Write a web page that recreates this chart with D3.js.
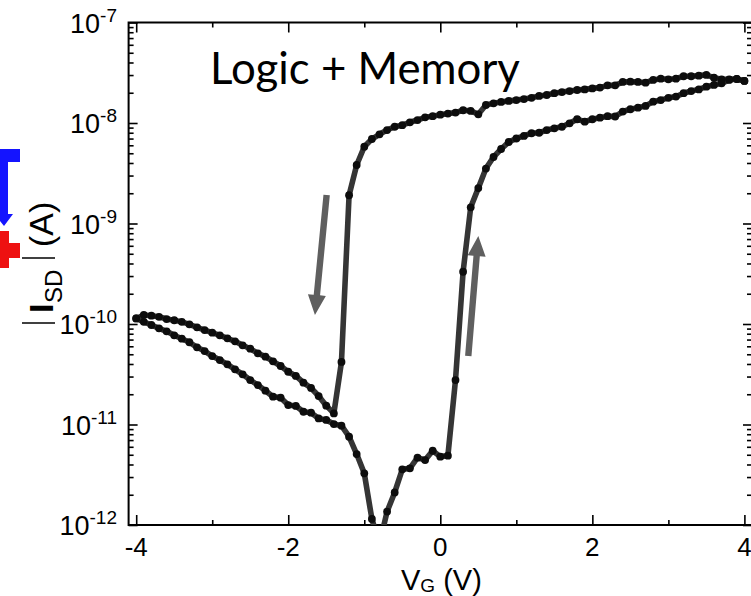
<!DOCTYPE html>
<html><head><meta charset="utf-8">
<script src="https://cdn.jsdelivr.net/npm/d3@7"></script>
<style>body{margin:0;background:#fff}svg{display:block}</style>
</head><body>
<svg id="c" width="751" height="596"></svg>
<script>
// gate voltage steps (V)
const voltages = [-4,-3.9,-3.8,-3.7,-3.6,-3.5,-3.4,-3.3,-3.2,-3.1,
  -3,-2.9,-2.8,-2.7,-2.6,-2.5,-2.4,-2.3,-2.2,-2.1,
  -2,-1.9,-1.8,-1.7,-1.6,-1.5,-1.4,-1.3,-1.2,-1.1,
  -1,-0.9,-0.8,-0.7,-0.6,-0.5,-0.4,-0.3,-0.2,-0.1,
  0,0.1,0.2,0.3,0.4,0.5,0.6,0.7,0.8,0.9,
  1,1.1,1.2,1.3,1.4,1.5,1.6,1.7,1.8,1.9,
  2,2.1,2.2,2.3,2.4,2.5,2.6,2.7,2.8,2.9,
  3,3.1,3.2,3.3,3.4,3.5,3.6,3.7,3.8,3.9,4];
// backward sweep (+4 -> -4), listed in ascending V order
const backwardCurrent = [1.135e-10,1.23e-10,1.21e-10,1.18e-10,1.12e-10,1.09e-10,1.05e-10,9.93e-11,9.27e-11,8.71e-11,
  8.19e-11,7.72e-11,7.21e-11,6.73e-11,6.14e-11,5.68e-11,5.11e-11,4.73e-11,4.25e-11,3.82e-11,
  3.35e-11,3.04e-11,2.61e-11,2.31e-11,1.92e-11,1.54e-11,1.29e-11,4.19e-11,1.91e-9,3.82e-9,
  5.81e-9,6.93e-9,7.72e-9,8.51e-9,9.18e-9,9.51e-9,1.016e-8,1.07e-8,1.14e-8,1.17e-8,
  1.21e-8,1.24e-8,1.27e-8,1.34e-8,1.32e-8,1.22e-8,1.51e-8,1.57e-8,1.62e-8,1.66e-8,
  1.69e-8,1.73e-8,1.78e-8,1.86e-8,1.90e-8,1.98e-8,2.03e-8,2.08e-8,2.13e-8,2.16e-8,
  2.21e-8,2.25e-8,2.37e-8,2.37e-8,2.56e-8,2.58e-8,2.56e-8,2.52e-8,2.68e-8,2.76e-8,
  2.72e-8,2.76e-8,2.92e-8,2.92e-8,2.96e-8,3.01e-8,2.82e-8,2.72e-8,2.72e-8,2.74e-8,
  2.62e-8];
// forward sweep (-4 -> +4)
const forwardCurrent = [1.135e-10,1.05e-10,9.77e-11,9.06e-11,8.46e-11,7.72e-11,7.14e-11,6.58e-11,5.86e-11,5.38e-11,
  4.80e-11,4.38e-11,3.97e-11,3.54e-11,3.16e-11,2.77e-11,2.47e-11,2.17e-11,1.89e-11,1.85e-11,
  1.56e-11,1.53e-11,1.34e-11,1.31e-11,1.15e-11,1.11e-11,1.01e-11,9.73e-12,7.57e-12,5.08e-12,
  3.27e-12,1.15e-12,6.47e-13,1.36e-12,2.11e-12,3.58e-12,3.66e-12,4.68e-12,4.43e-12,5.48e-12,
  4.79e-12,4.90e-12,2.77e-11,3.31e-10,1.45e-9,2.25e-9,3.52e-9,4.59e-9,5.51e-9,6.47e-9,
  7.01e-9,7.43e-9,7.91e-9,8.00e-9,8.51e-9,8.85e-9,9.18e-9,9.93e-9,1.09e-8,1.03e-8,
  1.09e-8,1.13e-8,1.17e-8,1.16e-8,1.30e-8,1.37e-8,1.42e-8,1.48e-8,1.63e-8,1.69e-8,
  1.78e-8,1.83e-8,1.98e-8,2.08e-8,2.16e-8,2.30e-8,2.39e-8,2.48e-8,2.68e-8,2.74e-8,
  2.62e-8];
const xMajorTicks = [-4,-2,0,2,4];
const xMinorTicks = [-3,-1,1,3];
const yMajorExponents = [-12,-11,-10,-9,-8,-7];
// sweep-direction arrows: [V, I] start -> tip
const sweepArrows = [
  {from:[-1.495,1.92e-9], to:[-1.649,1.23e-10]},
  {from:[0.368,4.8e-11], to:[0.50,7.5e-10]}
];
const title = "Logic + Memory";

const svg = d3.select("#c");
const L = 128.6, R = 752, T = 22.5, B = 525;
const x = d3.scaleLinear().domain([-4.1, 4.1]).range([L, R]);
const y = d3.scaleLog().domain([1e-12, 1e-7]).range([B, T]);

const yMinor = [];
yMajorExponents.slice(0, -1).forEach(e => { for (let m = 2; m <= 9; m++) yMinor.push(m * Math.pow(10, e)); });
const yMajor = yMajorExponents.map(e => Math.pow(10, e));

svg.append("defs").append("clipPath").attr("id","clip")
  .append("rect").attr("x", L).attr("y", T).attr("width", R - L).attr("height", B - T);

// left-edge fragments (blue arrow, red plus)
svg.append("path").attr("fill","#1414ff")
  .attr("d","M0,149 H20 V162 H8 V214 H13 L4,226 L0,221 Z");
svg.append("path").attr("fill","#ee1111")
  .attr("d","M0,231 H9 V243 H20 V258 H9 V268 H0 Z");

// axes ticks
function styleAxis(g){ g.select(".domain").remove(); g.selectAll("line").attr("stroke","#000").attr("stroke-width",1.6); g.selectAll("text").remove(); }
svg.append("g").attr("transform",`translate(0,${B})`).call(d3.axisBottom(x).tickValues(xMajorTicks).tickSize(-10)).call(styleAxis);
svg.append("g").attr("transform",`translate(0,${B})`).call(d3.axisBottom(x).tickValues(xMinorTicks).tickSize(-5)).call(styleAxis);
svg.append("g").attr("transform",`translate(0,${T})`).call(d3.axisTop(x).tickValues(xMajorTicks).tickSize(-10)).call(styleAxis);
svg.append("g").attr("transform",`translate(0,${T})`).call(d3.axisTop(x).tickValues(xMinorTicks).tickSize(-5)).call(styleAxis);
svg.append("g").attr("transform",`translate(${L},0)`).call(d3.axisLeft(y).tickValues(yMajor).tickSize(-9)).call(styleAxis);
svg.append("g").attr("transform",`translate(${L},0)`).call(d3.axisLeft(y).tickValues(yMinor).tickSize(-5)).call(styleAxis);
svg.append("g").attr("transform",`translate(${R},0)`).call(d3.axisRight(y).tickValues(yMajor).tickSize(-9)).call(styleAxis);
svg.append("g").attr("transform",`translate(${R},0)`).call(d3.axisRight(y).tickValues(yMinor).tickSize(-5)).call(styleAxis);

// frame
svg.append("rect").attr("x",L).attr("y",T).attr("width",R-L).attr("height",B-T)
  .attr("fill","none").attr("stroke","#000").attr("stroke-width",2);

// tick labels
const font = "'Liberation Sans', Arial, sans-serif";
svg.append("g").selectAll("text").data(xMajorTicks).join("text")
  .attr("x", d => x(d)).attr("y", 556).attr("text-anchor","middle")
  .attr("font-family", font).attr("font-size", 26).text(d => String(d));
const yl = svg.append("g").selectAll("text").data(yMajorExponents).join("text")
  .attr("x", 117).attr("y", d => y(Math.pow(10,d)) + 10).attr("text-anchor","end")
  .attr("font-family", font).attr("font-size", 27);
yl.append("tspan").text("10");
yl.append("tspan").attr("dy",-11).attr("font-size",19).text(d => String(d));

// axis titles
const xt = svg.append("text").attr("x",401).attr("y",589.5).attr("font-family",font).attr("font-size",29);
xt.append("tspan").text("V");
xt.append("tspan").attr("dy",2).attr("font-size",19).text("G");
xt.append("tspan").attr("dy",-2).text(" (V)");

const yt = svg.append("g").attr("transform","translate(53,313) rotate(-90)").attr("font-family",font);
yt.append("text").attr("x",0).attr("y",0).attr("font-size",34).attr("font-weight","bold").text("I");
yt.append("text").attr("x",10).attr("y",9).attr("font-size",24).text("SD");
yt.append("text").attr("x",66).attr("y",0).attr("font-size",34).text("(A)");
svg.append("line").attr("x1",22).attr("x2",55).attr("y1",323).attr("y2",323).attr("stroke","#000").attr("stroke-width",1.5);
svg.append("line").attr("x1",22).attr("x2",55).attr("y1",258).attr("y2",258).attr("stroke","#000").attr("stroke-width",1.5);

// data
const sweeps = [backwardCurrent, forwardCurrent].map(arr => arr.map((c,i) => ({v: voltages[i], c})));
const plot = svg.append("g").attr("clip-path","url(#clip)");
const line = d3.line().x(d => x(d.v)).y(d => y(d.c));
plot.selectAll("path.sweep").data(sweeps).join("path").attr("class","sweep")
  .attr("d", line).attr("fill","none").attr("stroke","#353535").attr("stroke-width",5.6)
  .attr("stroke-linejoin","round");
sweeps.forEach(s => {
  plot.append("g").selectAll("circle").data(s).join("circle")
    .attr("cx", d => x(d.v)).attr("cy", d => y(d.c)).attr("r",3.9).attr("fill","#0d0d0d");
});

// arrows
sweepArrows.forEach(a => {
  const x0 = x(a.from[0]), y0 = y(a.from[1]), x1 = x(a.to[0]), y1 = y(a.to[1]);
  const dx = x1 - x0, dy = y1 - y0, len = Math.hypot(dx, dy);
  const ux = dx/len, uy = dy/len, px = -uy, py = ux;
  const hl = 20, hw = 9, sw = 3.2;
  const bx = x1 - ux*hl, by = y1 - uy*hl;
  const pts = [[x0+px*sw,y0+py*sw],[bx+px*sw,by+py*sw],[bx+px*hw,by+py*hw],[x1,y1],
               [bx-px*hw,by-py*hw],[bx-px*sw,by-py*sw],[x0-px*sw,y0-py*sw]];
  svg.append("polygon").attr("points", pts.map(p => p.join(",")).join(" ")).attr("fill","#5f5f5f");
});

// title
const tt = svg.append("text").attr("x",210).attr("y",84)
  .attr("font-family","Lato, 'Open Sans', sans-serif").attr("font-size",40).attr("fill","#000").text(title);
const w = tt.node().getComputedTextLength();
tt.attr("font-size", 40 * 310 / w);
</script>
</body></html>
